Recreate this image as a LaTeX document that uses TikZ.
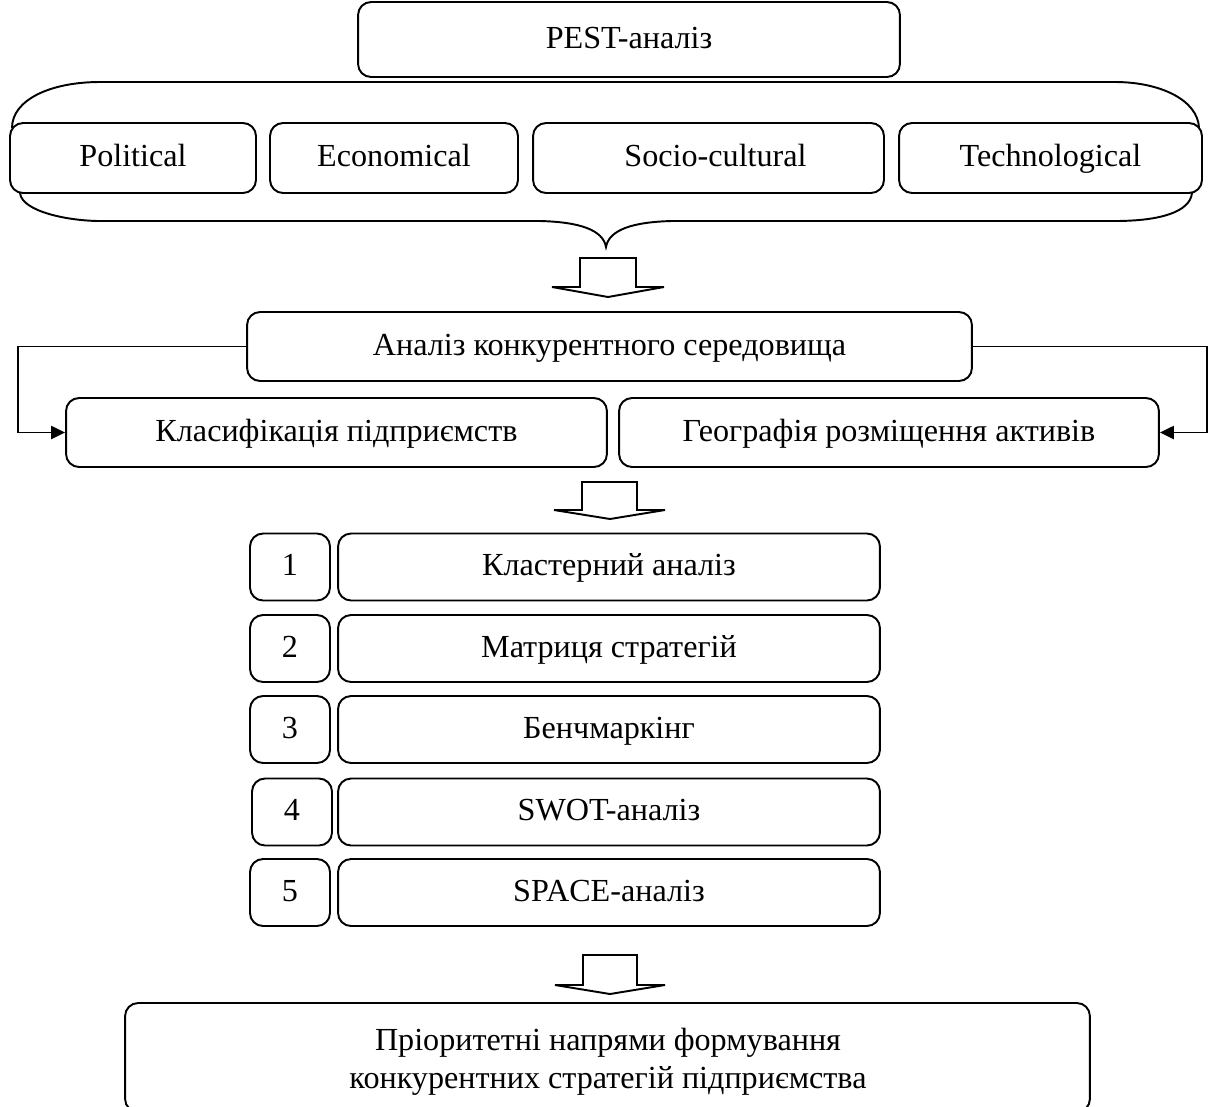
\documentclass[tikz,border=0pt]{standalone}
\usepackage{fontspec}
\setmainfont{Liberation Serif}
\usetikzlibrary{arrows.meta}
\begin{document}
\begin{tikzpicture}[x=0.02cm,y=-0.02cm,
  line width=1.1pt,
  bx/.style={draw, rounded corners=0.26cm, inner sep=0pt,
    font=\fontsize{18.3}{24}\selectfont, text height=13.7pt, text depth=3.5pt},
  txt/.style={inner sep=0pt, font=\fontsize{18.3}{24}\selectfont, text height=13.7pt, text depth=3.5pt},
  conn/.style={-{Triangle[length=8pt,width=7.5pt]}},
  blockarrow/.style={draw, fill=white, line width=1.1pt}
]
\useasboundingbox (0,0) rectangle (1213,1106);
\clip (0,0) rectangle (1213,1106);

% top
\node[bx, minimum width=10.84cm, minimum height=1.5cm] (pest) at (629,39.5) {PEST-аналіз};

% brace
\draw (12,128) .. controls (12,100) and (50,82) .. (100,82) -- (1115,82)
      .. controls (1160,82) and (1198,100) .. (1199,128);
\draw (20,193) .. controls (22,212) and (70,221) .. (100,221) -- (540,221)
      .. controls (580,222) and (603,230) .. (606,247)
      .. controls (609,230) and (632,222) .. (672,221) -- (1115,221)
      .. controls (1160,221) and (1190,212) .. (1192,193);

\node[bx, fill=white, minimum width=4.92cm, minimum height=1.4cm] (pol) at (133,158) {Political};
\node[bx, fill=white, minimum width=4.96cm, minimum height=1.4cm] (eco) at (394,158) {Economical};
\node[bx, fill=white, minimum width=7.02cm, minimum height=1.4cm] (soc) at (708.5,158) {\hspace*{8pt}Socio-cultural};
\node[bx, fill=white, minimum width=6.06cm, minimum height=1.4cm] (tec) at (1050.5,158) {Technological};

% block arrow 1
\draw[blockarrow] (580,258) -- (636,258) -- (636,287) -- (664,287) -- (608,297) -- (552,287) -- (580,287) -- cycle;

% competitive environment
\node[bx, minimum width=14.5cm, minimum height=1.38cm] (ana) at (609.5,346.5) {Аналіз конкурентного середовища};
\node[bx, minimum width=10.82cm, minimum height=1.38cm] (klas) at (336.5,432.5) {Класифікація підприємств};
\node[bx, minimum width=10.8cm, minimum height=1.38cm] (geo) at (889,432.5) {Географія розміщення активів};

\coordinate (lc) at (18,432.5);
\coordinate (rc) at (1207,432.5);
\draw[conn] (ana.west) -| (lc) -- (klas.west);
\draw[conn] (ana.east) -| (rc) -- (geo.east);

% block arrow 2
\draw[blockarrow] (582,482) -- (637,482) -- (637,510) -- (665,510) -- (610,519) -- (554,510) -- (582,510) -- cycle;

% methods
\node[bx, minimum width=1.6cm, minimum height=1.34cm] (n1) at (290,567) {1};
\node[bx, minimum width=10.84cm, minimum height=1.34cm] (m1) at (609,567) {Кластерний аналіз};
\node[bx, minimum width=1.6cm, minimum height=1.34cm] (n2) at (290,648.5) {2};
\node[bx, minimum width=10.84cm, minimum height=1.34cm] (m2) at (609,648.5) {Матриця стратегій};
\node[bx, minimum width=1.6cm, minimum height=1.34cm] (n3) at (290,729.5) {3};
\node[bx, minimum width=10.84cm, minimum height=1.34cm] (m3) at (609,729.5) {Бенчмаркінг};
\node[bx, minimum width=1.6cm, minimum height=1.34cm] (n4) at (292,812) {4};
\node[bx, minimum width=10.84cm, minimum height=1.34cm] (m4) at (609,812) {SWOT-аналіз};
\node[bx, minimum width=1.6cm, minimum height=1.34cm] (n5) at (290,892.5) {5};
\node[bx, minimum width=10.84cm, minimum height=1.34cm] (m5) at (609,892.5) {SPACE-аналіз};

% block arrow 3
\draw[blockarrow] (583,955) -- (637,955) -- (637,985) -- (665,985) -- (610,994) -- (555,985) -- (583,985) -- cycle;

% result
\node[bx, minimum width=19.3cm, minimum height=2.18cm] (res) at (607.5,1057.5) {};
\node[txt] (r1) at (608,1042) {Пріоритетні напрями формування};
\node[txt] (r2) at (608,1080) {конкурентних стратегій підприємства};
\end{tikzpicture}
\end{document}
